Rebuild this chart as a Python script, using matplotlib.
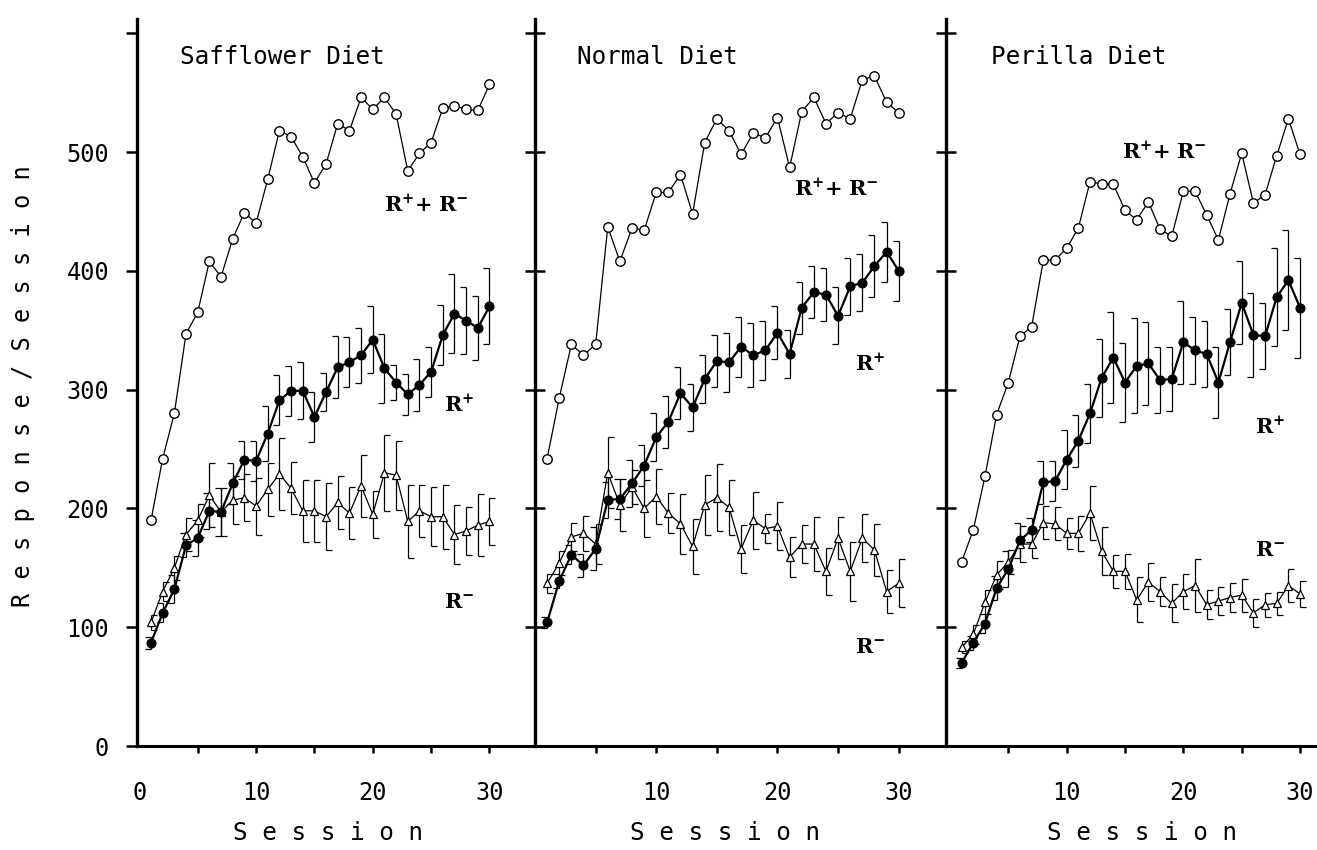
import numpy as np
import matplotlib.pyplot as plt
from matplotlib.ticker import FixedLocator

sessions = np.arange(1, 31)

# Safflower diet
saff_total = [190, 242, 280, 347, 365, 408, 395, 427, 449, 440, 477, 518, 513, 496, 474,
              490, 524, 518, 546, 536, 546, 532, 484, 499, 508, 537, 539, 536, 535, 557]
saff_rplus = [87, 112, 132, 169, 175, 198, 197, 221, 241, 240, 263, 291, 299, 299, 277,
              298, 319, 323, 329, 342, 318, 306, 296, 304, 315, 346, 364, 358, 352, 370]
saff_rplus_err = [5, 8, 12, 10, 15, 15, 20, 17, 16, 17, 23, 21, 21, 24, 21,
                  16, 26, 21, 23, 28, 29, 15, 17, 22, 21, 25, 33, 28, 27, 32]
saff_rminus = [104, 130, 150, 178, 190, 211, 197, 207, 209, 202, 216, 229, 217, 198, 198,
               193, 205, 196, 219, 195, 230, 228, 189, 198, 193, 193, 178, 181, 186, 189]
saff_rminus_err = [6, 8, 10, 14, 14, 27, 20, 20, 20, 24, 22, 30, 22, 26, 26,
                   28, 22, 22, 26, 20, 32, 29, 31, 22, 25, 27, 25, 20, 26, 20]

# Normal diet
norm_total = [242, 293, 338, 329, 338, 437, 408, 436, 434, 466, 466, 481, 448, 508, 528,
              518, 498, 516, 512, 529, 487, 534, 546, 524, 533, 528, 561, 564, 542, 533]
norm_rplus = [104, 139, 161, 152, 166, 207, 208, 221, 236, 260, 273, 297, 285, 309, 324,
              323, 336, 329, 333, 348, 330, 369, 382, 380, 362, 387, 390, 404, 416, 400]
norm_rplus_err = [5, 6, 8, 10, 18, 15, 17, 20, 17, 20, 22, 22, 20, 20, 22,
                  25, 25, 27, 25, 22, 20, 22, 22, 22, 24, 24, 24, 26, 25, 25]
norm_rminus = [137, 154, 176, 179, 170, 230, 203, 218, 200, 210, 196, 187, 168, 203, 209,
               201, 166, 190, 183, 185, 159, 170, 170, 147, 175, 147, 175, 165, 130, 137]
norm_rminus_err = [8, 10, 12, 15, 17, 30, 22, 14, 24, 23, 17, 25, 23, 25, 28,
                   23, 20, 24, 12, 20, 17, 16, 23, 20, 18, 25, 20, 22, 18, 20]

# Perilla diet
peri_total = [155, 182, 227, 279, 306, 345, 353, 409, 409, 419, 436, 475, 473, 473, 451,
              443, 458, 435, 429, 467, 467, 447, 426, 465, 499, 457, 464, 497, 528, 498]
peri_rplus = [70, 87, 103, 133, 149, 173, 182, 222, 223, 241, 257, 280, 310, 327, 306,
              320, 322, 308, 309, 340, 333, 330, 306, 340, 373, 346, 345, 378, 392, 369]
peri_rplus_err = [4, 6, 8, 10, 15, 15, 10, 18, 17, 25, 22, 25, 33, 38, 33,
                  40, 35, 28, 27, 35, 28, 28, 30, 28, 35, 35, 28, 41, 42, 42]
peri_rminus = [83, 94, 121, 144, 155, 170, 170, 188, 187, 179, 179, 196, 164, 147, 147,
               123, 138, 130, 120, 130, 135, 119, 122, 125, 127, 112, 119, 120, 135, 128]
peri_rminus_err = [5, 8, 10, 12, 10, 15, 12, 14, 14, 13, 15, 23, 20, 14, 15,
                   19, 16, 12, 16, 15, 22, 12, 12, 12, 14, 12, 10, 10, 14, 11]

titles = ["Safflower Diet", "Normal Diet", "Perilla Diet"]
y_ticks = [0, 100, 200, 300, 400, 500, 600]
y_ticklabels = ['0', '100', '200', '300', '400', '500', '']

plt.rcParams['font.family'] = 'DejaVu Sans Mono'
plt.rcParams['mathtext.fontset'] = 'dejavuserif'

W, H = 1317, 850
fig = plt.figure(figsize=(W / 100, H / 100), dpi=100)

# pixel edges of the three panels, and their x ranges
edges = [(137, 535), (535, 946), (946, 1317)]
xlims = [(-0.2, 33.9), (0, 33.9), (-0.34, 31.45)]
y_bottom, y_top = 746, 19

cap_left = [(-1, 0), (0, 0)]   # "]" style caps
cap_right = [(0, 0), (1, 0)]   # "[" style caps

# label positions (data coords): (total, R+, R-)
label_pos = [
    [(21.0, 456), (26.1, 287), (26.1, 121)],
    [(21.4, 469), (26.4, 322), (26.4, 83)],
    [(14.7, 500), (26.1, 269), (26.1, 165)],
]

series = [
    (saff_total, saff_rplus, saff_rplus_err, saff_rminus, saff_rminus_err),
    (norm_total, norm_rplus, norm_rplus_err, norm_rminus, norm_rminus_err),
    (peri_total, peri_rplus, peri_rplus_err, peri_rminus, peri_rminus_err),
]


def draw_err(ax, x, y, err, cap, z):
    y = np.asarray(y, float)
    err = np.asarray(err, float)
    ax.vlines(x, y - err, y + err, color='k', lw=0.9, zorder=z)
    for end in (y - err, y + err):
        ax.plot(x, end, ls='none', marker=cap, ms=8, mew=0.9, color='k', zorder=z)


for i, (ax_edge, xl) in enumerate(zip(edges, xlims)):
    left, right = ax_edge
    ax = fig.add_axes([left / W, (H - y_bottom) / H, (right - left) / W, (y_bottom - y_top) / H])
    total, rplus, rplus_err, rminus, rminus_err = series[i]

    draw_err(ax, sessions, rminus, rminus_err, cap_right, 1)
    draw_err(ax, sessions, rplus, rplus_err, cap_left, 1)

    ax.plot(sessions, rminus, color='k', lw=0.9, marker='^', ms=5.5, mfc='white',
            mec='k', mew=0.9, zorder=3)
    ax.plot(sessions, rplus, color='k', lw=1.6, marker='o', ms=6.3, mfc='k',
            mec='k', zorder=4)
    ax.plot(sessions, total, color='k', lw=0.9, marker='o', ms=6.8, mfc='white',
            mec='k', mew=1.0, zorder=5)

    ax.set_xlim(*xl)
    ax.set_ylim(0, 612)
    for side in ('top', 'right'):
        ax.spines[side].set_visible(False)
    ax.spines['left'].set_linewidth(2.4)
    ax.spines['bottom'].set_linewidth(2.2)

    ax.yaxis.set_major_locator(FixedLocator(y_ticks))
    if i == 0:
        ax.set_yticklabels(y_ticklabels)
        ax.tick_params(axis='y', direction='out', length=8, width=1.8, labelsize=17, pad=12)
    else:
        ax.tick_params(axis='y', direction='inout', length=14, width=1.8, labelleft=False)

    if i == 0:
        ax.set_xticks([0, 5, 10, 15, 20, 25, 30])
        ax.set_xticklabels(['0', '', '10', '', '20', '', '30'])
    else:
        ax.set_xticks([5, 10, 15, 20, 25, 30])
        ax.set_xticklabels(['', '10', '', '20', '', '30'])
    ax.tick_params(axis='x', direction='out', length=5, width=1.8, labelsize=17, pad=20)
    if i == 0:
        ax.xaxis.get_major_ticks()[0].tick1line.set_visible(False)

    ax.text(3.5, 580, titles[i], fontsize=17.5, va='center', ha='left')

    (tx, ty), (px, py), (mx, my) = label_pos[i]
    ax.text(tx, ty, r"$\mathbf{R}^{\mathbf{+}}\mathbf{+\ R}^{\mathbf{-}}$", fontsize=15,
            va='center', ha='left')
    ax.text(px, py, r"$\mathbf{R}^{\mathbf{+}}$", fontsize=15, va='center', ha='left')
    ax.text(mx, my, r"$\mathbf{R}^{\mathbf{-}}$", fontsize=15, va='center', ha='left')

    centre = [328, 725, 1142][i]
    fig.text(centre / W, 1 - 833 / H, "S e s s i o n", fontsize=17.5, ha='center', va='center')

fig.text(23 / W, 1 - 386 / H, "R e s p o n s e / S e s s i o n", fontsize=17,
         rotation=90, ha='center', va='center')

fig.savefig('out.png', dpi=100)
